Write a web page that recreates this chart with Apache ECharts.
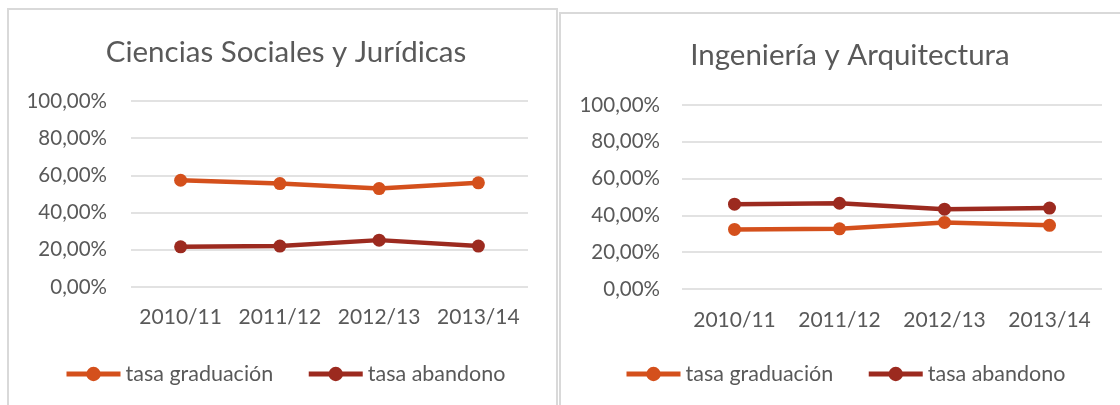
<!DOCTYPE html>
<html>
<head>
<meta charset="utf-8">
<script src="https://cdn.jsdelivr.net/npm/echarts@6/dist/echarts.min.js"></script>
<style>
  html, body { margin: 0; padding: 0; background: #fff; }
  #chart { width: 1120px; height: 405px; }
</style>
</head>
<body>
<div id="chart"></div>
<script>
  // data
  var cursos = ['2010/11', '2011/12', '2012/13', '2013/14'];
  var socialesGraduacion = [0.574, 0.556, 0.529, 0.560];
  var socialesAbandono = [0.216, 0.220, 0.252, 0.220];
  var ingenieriaGraduacion = [0.324, 0.327, 0.362, 0.346];
  var ingenieriaAbandono = [0.461, 0.466, 0.434, 0.440];
  var yTicks = [0, 0.2, 0.4, 0.6, 0.8, 1];

  var colorGrad = '#D4501C';
  var colorAband = '#9C2A1F';
  var textColor = '#595959';
  var font = 'Lato';

  function pct(v) {
    return (v * 100).toFixed(2).replace('.', ',') + '%';
  }

  function serie(name, data, color, idx) {
    return {
      name: name,
      type: 'line',
      xAxisIndex: idx,
      yAxisIndex: idx,
      data: data,
      symbol: 'circle',
      symbolSize: 13,
      lineStyle: {width: 4.5, color: color},
      itemStyle: {color: color},
      emphasis: {disabled: true},
      animation: false
    };
  }

  function yAxis(idx, margin) {
    return {
      type: 'value',
      gridIndex: idx,
      min: yTicks[0],
      max: yTicks[yTicks.length - 1],
      interval: 0.2,
      axisLine: {show: false},
      axisTick: {show: false},
      splitLine: {lineStyle: {color: '#D9D9D9', width: 1.5}},
      axisLabel: {
        margin: margin,
        color: textColor,
        fontFamily: font,
        fontSize: 20.5,
        formatter: pct
      }
    };
  }

  function xAxis(idx, margin) {
    return {
      type: 'category',
      gridIndex: idx,
      data: cursos,
      boundaryGap: true,
      axisLine: {show: false},
      axisTick: {show: false},
      axisLabel: {
        interval: 0,
        hideOverlap: false,
        margin: margin,
        color: textColor,
        fontFamily: font,
        fontSize: 21
      }
    };
  }

  function legend(left) {
    return {
      left: left,
      top: 363,
      padding: 0,
      itemWidth: 54,
      itemHeight: 18,
      itemGap: 33,
      lineStyle: {width: 5},
      textStyle: {color: textColor, fontFamily: font, fontSize: 21.5},
      data: ['tasa graduación', 'tasa abandono']
    };
  }

  var chart = echarts.init(document.getElementById('chart'));
  chart.setOption({
    backgroundColor: '#fff',
    animation: false,
    graphic: [
      {type: 'rect', shape: {x: 8, y: 9, width: 549, height: 420},
        style: {fill: 'none', stroke: '#D9D9D9', lineWidth: 2}},
      {type: 'rect', shape: {x: 560, y: 13, width: 600, height: 420},
        style: {fill: 'none', stroke: '#D9D9D9', lineWidth: 2}}
    ],
    title: [
      {text: 'Ciencias Sociales y Jurídicas', left: 281, top: 32, textAlign: 'center',
        textStyle: {color: textColor, fontFamily: font, fontSize: 29.5, fontWeight: 'normal'}},
      {text: 'Ingeniería y Arquitectura', left: 845, top: 35, textAlign: 'center',
        textStyle: {color: textColor, fontFamily: font, fontSize: 29.5, fontWeight: 'normal'}}
    ],
    legend: [legend(64), legend(624)],
    grid: [
      {left: 131, top: 101, width: 397, height: 186},
      {left: 682, top: 105, width: 420, height: 184}
    ],
    xAxis: [xAxis(0, 20), xAxis(1, 21)],
    yAxis: [yAxis(0, 24), yAxis(1, 22)],
    series: [
      serie('tasa graduación', socialesGraduacion, colorGrad, 0),
      serie('tasa abandono', socialesAbandono, colorAband, 0),
      serie('tasa graduación', ingenieriaGraduacion, colorGrad, 1),
      serie('tasa abandono', ingenieriaAbandono, colorAband, 1)
    ]
  });
</script>
</body>
</html>
